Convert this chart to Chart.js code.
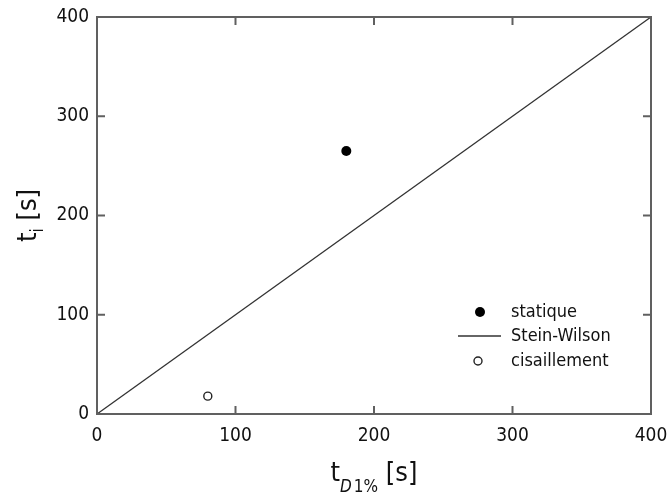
<!DOCTYPE html>
<html>
<head>
<meta charset="utf-8">
<script src="https://cdn.jsdelivr.net/npm/chart.js@4"></script>
<style>
  body { margin: 0; background: #fff; }
  #wrap { width: 669px; height: 496px; position: relative; }
</style>
</head>
<body>
<div id="wrap"><canvas id="c"></canvas></div>
<script>
// data
const tickValues = [0, 100, 200, 300, 400];
const statiqueX = [180];
const statiqueY = [265];
const cisaillementX = [80];
const cisaillementY = [18];
const steinWilsonX = [0, 400];
const steinWilsonY = [0, 400];
const legendLabels = ['statique', 'Stein-Wilson', 'cisaillement'];

const FONT = "'DejaVu Sans Condensed', 'DejaVu Sans', sans-serif";
const AXIS = '#606060';

const toPoints = (xs, ys) => xs.map((x, i) => ({ x: x, y: ys[i] }));

// frame, inward ticks on all four sides, axis titles and the legend
const decorations = {
  id: 'decorations',
  afterDraw(chart) {
    const ctx = chart.ctx;
    const a = chart.chartArea;
    const xs = chart.scales.x, ys = chart.scales.y;
    ctx.save();
    ctx.strokeStyle = AXIS;
    ctx.lineWidth = 2;
    ctx.strokeRect(a.left, a.top, a.right - a.left, a.bottom - a.top);
    ctx.beginPath();
    tickValues.forEach(v => {
      const px = xs.getPixelForValue(v);
      const py = ys.getPixelForValue(v);
      ctx.moveTo(px, a.bottom); ctx.lineTo(px, a.bottom - 8);
      ctx.moveTo(px, a.top); ctx.lineTo(px, a.top + 8);
      ctx.moveTo(a.left, py); ctx.lineTo(a.left + 8, py);
      ctx.moveTo(a.right, py); ctx.lineTo(a.right - 8, py);
    });
    ctx.stroke();

    // x title: t_{D1%} [s]
    ctx.fillStyle = '#111';
    ctx.textBaseline = 'alphabetic';
    const big = '27px ' + FONT, small = '17px ' + FONT, smallIt = 'italic 17px ' + FONT;
    ctx.font = big; const wT = ctx.measureText('t').width; const wS = ctx.measureText(' [s]').width;
    ctx.font = smallIt; const wD = ctx.measureText('D').width;
    ctx.font = small; const w1 = ctx.measureText('1%').width;
    let x0 = (a.left + a.right) / 2 - (wT + wD + w1 + 2 + wS) / 2;
    const by = 481;
    ctx.font = big; ctx.fillText('t', x0, by); x0 += wT;
    ctx.font = smallIt; ctx.fillText('D', x0, by + 11); x0 += wD + 2;
    ctx.font = small; ctx.fillText('1%', x0, by + 11); x0 += w1;
    ctx.font = big; ctx.fillText(' [s]', x0, by);

    // y title: t_i [s], rotated
    ctx.save();
    ctx.translate(36, (a.top + a.bottom) / 2);
    ctx.rotate(-Math.PI / 2);
    ctx.font = big; const wt = ctx.measureText('t').width; const ws = ctx.measureText(' [s]').width;
    ctx.font = small; const wi = ctx.measureText('i').width;
    let y0 = -(wt + wi + ws) / 2;
    ctx.font = big; ctx.fillText('t', y0, 0); y0 += wt;
    ctx.font = small; ctx.fillText('i', y0, 7); y0 += wi;
    ctx.font = big; ctx.fillText(' [s]', y0, 0);
    ctx.restore();

    // legend inside the plot
    ctx.font = '18px ' + FONT;
    ctx.textBaseline = 'middle';
    ctx.beginPath(); ctx.arc(480, 312, 5, 0, Math.PI * 2); ctx.fillStyle = '#000'; ctx.fill();
    ctx.fillStyle = '#111'; ctx.fillText(legendLabels[0], 511, 312);
    ctx.strokeStyle = '#333'; ctx.lineWidth = 1.3;
    ctx.beginPath(); ctx.moveTo(458, 336); ctx.lineTo(501, 336); ctx.stroke();
    ctx.fillText(legendLabels[1], 511, 336);
    ctx.beginPath(); ctx.arc(478, 361, 4, 0, Math.PI * 2); ctx.strokeStyle = '#222'; ctx.lineWidth = 1.4; ctx.stroke();
    ctx.fillText(legendLabels[2], 511, 361);
    ctx.restore();
  }
};

new Chart(document.getElementById('c'), {
  type: 'scatter',
  data: {
    datasets: [
      {
        label: legendLabels[1],
        type: 'line',
        data: toPoints(steinWilsonX, steinWilsonY),
        borderColor: '#333',
        borderWidth: 1.3,
        pointRadius: 0,
        fill: false
      },
      {
        label: legendLabels[0],
        data: toPoints(statiqueX, statiqueY),
        backgroundColor: '#000',
        borderColor: '#000',
        pointRadius: 5,
        borderWidth: 0
      },
      {
        label: legendLabels[2],
        data: toPoints(cisaillementX, cisaillementY),
        backgroundColor: '#fff',
        borderColor: '#222',
        pointRadius: 4,
        borderWidth: 1.4
      }
    ]
  },
  options: {
    responsive: true,
    maintainAspectRatio: false,
    animation: false,
    layout: { padding: { left: 0, top: 17, right: 18, bottom: 0 } },
    plugins: { legend: { display: false }, tooltip: { enabled: false } },
    scales: {
      x: {
        type: 'linear',
        min: 0, max: 400,
        afterBuildTicks: s => { s.ticks = tickValues.map(v => ({ value: v })); },
        afterFit: s => { s.height = 82; s.paddingLeft = 0; s.paddingRight = 0; },
        grid: { display: false, drawTicks: false },
        border: { display: false },
        ticks: { color: '#111', padding: 11, font: { family: FONT, size: 19 } }
      },
      y: {
        type: 'linear',
        min: 0, max: 400,
        afterBuildTicks: s => { s.ticks = tickValues.map(v => ({ value: v })); },
        afterFit: s => { s.width = 97; s.paddingTop = 0; s.paddingBottom = 0; },
        grid: { display: false, drawTicks: false },
        border: { display: false },
        ticks: { color: '#111', padding: 8, font: { family: FONT, size: 19 } }
      }
    }
  },
  plugins: [decorations]
});
</script>
</body>
</html>
